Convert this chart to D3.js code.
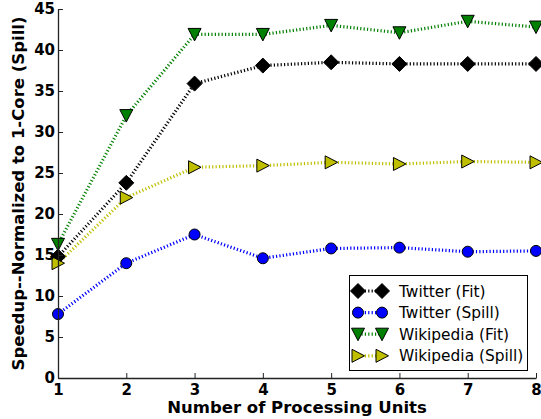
<!DOCTYPE html>
<html><head><meta charset="utf-8">
<script src="https://cdn.jsdelivr.net/npm/d3@7/dist/d3.min.js"></script>
<style>body{margin:0;background:#fff}svg{display:block}</style>
</head><body><svg id="c" width="541" height="419"></svg>
<script>
const units = [1,2,3,4,5,6,7,8];
const twitterFit = [14.8,23.8,35.9,38.1,38.5,38.3,38.3,38.3];
const twitterSpill = [7.8,14.0,17.5,14.6,15.8,15.9,15.4,15.5];
const wikiFit = [16.3,32.0,41.9,41.9,43.0,42.1,43.5,42.8];
const wikiSpill = [14.0,22.0,25.7,25.9,26.3,26.1,26.4,26.3];
const yTicks = [0,5,10,15,20,25,30,35,40,45];
const seriesNames = ["Twitter (Fit)","Twitter (Spill)","Wikipedia (Fit)","Wikipedia (Spill)"];
const seriesColors = ["#000000","#0000ff","#008000","#bfbf00"];
const seriesMarkers = ["diamond","circle","tridown","triright"];
const seriesData = [twitterFit,twitterSpill,wikiFit,wikiSpill];

const svg = d3.select("#c");
const L=58,R=536,T=9,B=378;
const x = d3.scaleLinear().domain([1,8]).range([L,R]);
const y = d3.scaleLinear().domain([0,45]).range([B,T]);
const font = "DejaVu Sans, sans-serif";

function markerPath(type){
  if(type==="diamond") return "M0,-7.5L7.5,0L0,7.5L-7.5,0Z";
  if(type==="circle") return d3.symbol(d3.symbolCircle, 95)();
  if(type==="tridown") return "M-6.5,-6L6.5,-6L0,6.5Z";
  if(type==="triright") return "M-6,-6.5L6.5,0L-6,6.5Z";
}

// lines
seriesData.forEach((vals,i)=>{
  const pts = units.map((u,j)=>[u,vals[j]]);
  svg.append("path").attr("d", d3.line().x(d=>x(d[0])).y(d=>y(d[1]))(pts))
    .attr("fill","none").attr("stroke",seriesColors[i]).attr("stroke-width",3.2)
    .attr("stroke-dasharray","1.2,2.2");
});
seriesData.forEach((vals,i)=>{
  svg.append("g").selectAll("path").data(units.map((u,j)=>[u,vals[j]])).join("path")
    .attr("d",markerPath(seriesMarkers[i]))
    .attr("transform",d=>`translate(${x(d[0])},${y(d[1])})`)
    .attr("fill",seriesColors[i]).attr("stroke","#000").attr("stroke-width",1);
});

// axes
const xAxis = svg.append("g").attr("transform",`translate(0,${B})`)
  .call(d3.axisBottom(x).tickValues(units).tickFormat(d3.format("d")).tickSizeInner(-5).tickSizeOuter(0).tickPadding(6));
const yAxis = svg.append("g").attr("transform",`translate(${L},0)`)
  .call(d3.axisLeft(y).tickValues(yTicks).tickSizeInner(-5).tickSizeOuter(0).tickPadding(3));
[xAxis,yAxis].forEach(a=>{
  a.selectAll("path.domain").attr("stroke","#222").attr("stroke-width",1.3);
  a.selectAll(".tick line").attr("stroke","#222").attr("stroke-width",1);
  a.selectAll("text").attr("font-family",font).attr("font-weight","bold").attr("font-size",15).attr("fill","#000");
});

svg.append("text").attr("x",(L+R)/2).attr("y",413).attr("text-anchor","middle")
  .attr("font-family",font).attr("font-weight","bold").attr("font-size",16.5).text("Number of Processing Units");
svg.append("text").attr("transform",`translate(24,${(T+B)/2}) rotate(-90)`).attr("text-anchor","middle")
  .attr("font-family",font).attr("font-weight","bold").attr("font-size",16.5).text("Speedup--Normalized to 1-Core (Spill)");

// legend
const lg = svg.append("g");
lg.append("rect").attr("x",349.5).attr("y",275.5).attr("width",178).attr("height",95)
  .attr("fill","#fff").attr("stroke","#000").attr("stroke-width",1);
seriesNames.forEach((n,i)=>{
  const yy = 291 + i*21.6;
  lg.append("line").attr("x1",358).attr("x2",382).attr("y1",yy).attr("y2",yy)
    .attr("stroke",seriesColors[i]).attr("stroke-width",3.2).attr("stroke-dasharray","1.2,2.2");
  [358,382].forEach(mx=>lg.append("path").attr("d",markerPath(seriesMarkers[i]))
    .attr("transform",`translate(${mx},${yy})`).attr("fill",seriesColors[i]).attr("stroke","#000").attr("stroke-width",1));
  lg.append("text").attr("x",399).attr("y",yy).attr("dy","0.36em")
    .attr("font-family",font).attr("font-size",15.4).text(n);
});
</script></body></html>
